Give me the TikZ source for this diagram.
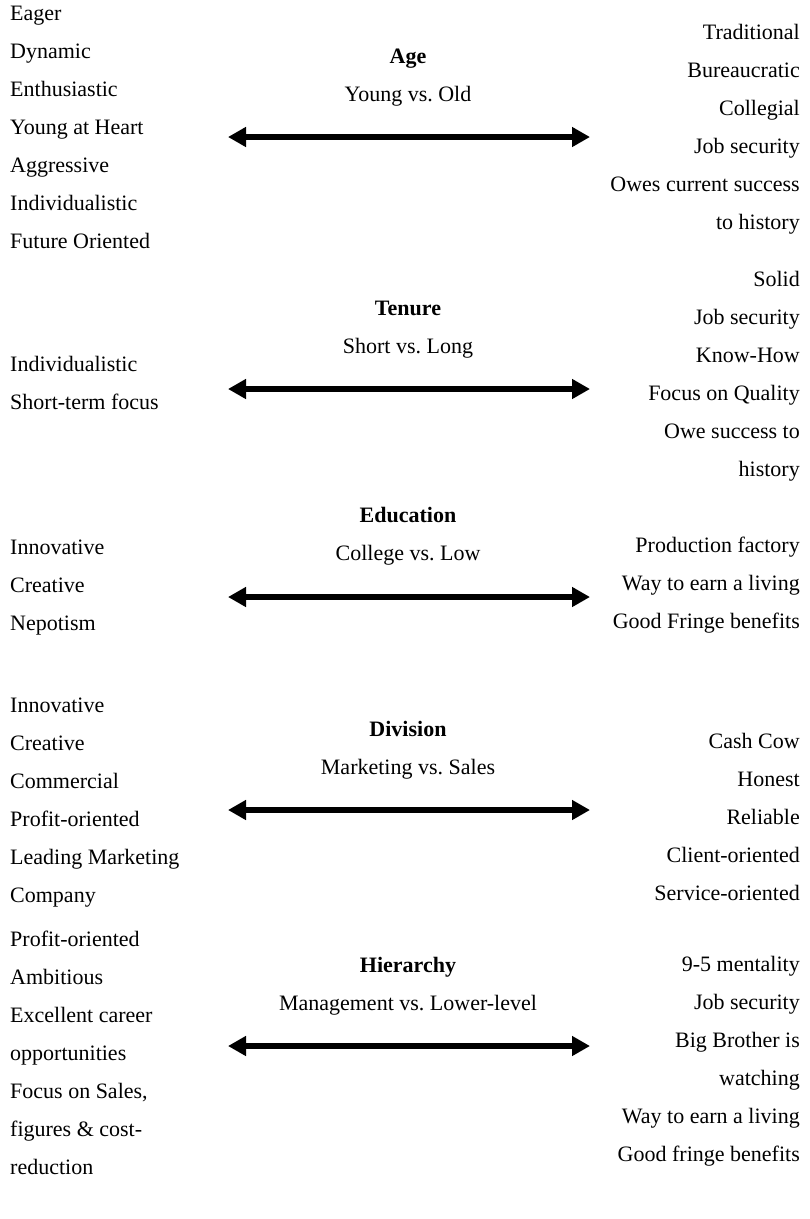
\documentclass[tikz,border=0pt]{standalone}
\usepackage{fontspec}
\setmainfont{Liberation Serif}
\frenchspacing
\usetikzlibrary{arrows.meta,positioning}
\tikzstyle{trait}=[
	inner sep=0pt,
	anchor=base west
]
\tikzstyle{traitright}=[
	inner sep=0pt,
	anchor=base east
]
\tikzstyle{dimension}=[
	inner sep=0pt,
	anchor=base,
	font=\fontsize{22}{26}\selectfont\bfseries
]
\tikzstyle{poles}=[
	inner sep=0pt,
	anchor=base
]
\tikzstyle{contrast}=[
	{Triangle[length=18pt,width=19pt]}-{Triangle[length=18pt,width=19pt]},
	line width=6pt
]

\begin{document}
\begin{tikzpicture}[x=1pt,y=-1pt,font=\fontsize{22}{26}\selectfont]
\useasboundingbox (0,0) rectangle (810,1219);

% Age
\node [dimension] (Age) at (408,63) {Age};
\node [poles] (AgePoles) at (408,101) {Young vs.\ Old};
\coordinate (AgeYoung) at (228,137);
\coordinate (AgeOld) at (590,137);
\draw [contrast] (AgeYoung) -- (AgeOld);
\foreach \t [count=\i] in {Eager,Dynamic,Enthusiastic,Young at Heart,Aggressive,Individualistic,Future Oriented}
	\node [trait] (AgeL\i) at (10,20+38*\i-38) {\t};
\foreach \t [count=\i] in {Traditional,Bureaucratic,Collegial,Job security,Owes current success,to history}
	\node [traitright] (AgeR\i) at (800,39+38*\i-38) {\t};

% Tenure
\node [dimension] (Tenure) at (408,315) {Tenure};
\node [poles] (TenurePoles) at (408,353) {Short vs.\ Long};
\coordinate (TenureShort) at (228,389);
\coordinate (TenureLong) at (590,389);
\draw [contrast] (TenureShort) -- (TenureLong);
\foreach \t [count=\i] in {Individualistic,Short-term focus}
	\node [trait] (TenureL\i) at (10,371+38*\i-38) {\t};
\foreach \t [count=\i] in {Solid,Job security,Know-How,Focus on Quality,Owe success to,history}
	\node [traitright] (TenureR\i) at (800,286+38*\i-38) {\t};

% Education
\node [dimension] (Education) at (408,522) {Education};
\node [poles] (EducationPoles) at (408,560) {College vs.\ Low};
\coordinate (EducationCollege) at (228,597);
\coordinate (EducationLow) at (590,597);
\draw [contrast] (EducationCollege) -- (EducationLow);
\foreach \t [count=\i] in {Innovative,Creative,Nepotism}
	\node [trait] (EducationL\i) at (10,554+38*\i-38) {\t};
\foreach \t [count=\i] in {Production factory,Way to earn a living,Good Fringe benefits}
	\node [traitright] (EducationR\i) at (800,552+38*\i-38) {\t};

% Division
\node [dimension] (Division) at (408,736) {Division};
\node [poles] (DivisionPoles) at (408,774) {Marketing vs.\ Sales};
\coordinate (DivisionMarketing) at (228,810);
\coordinate (DivisionSales) at (590,810);
\draw [contrast] (DivisionMarketing) -- (DivisionSales);
\foreach \t [count=\i] in {Innovative,Creative,Commercial,Profit-oriented,Leading Marketing,Company}
	\node [trait] (DivisionL\i) at (10,712+38*\i-38) {\t};
\foreach \t [count=\i] in {Cash Cow,Honest,Reliable,Client-oriented,Service-oriented}
	\node [traitright] (DivisionR\i) at (800,748+38*\i-38) {\t};

% Hierarchy
\node [dimension] (Hierarchy) at (408,972) {Hierarchy};
\node [poles] (HierarchyPoles) at (408,1010) {Management vs.\ Lower-level};
\coordinate (HierarchyManagement) at (228,1046);
\coordinate (HierarchyLower) at (590,1046);
\draw [contrast] (HierarchyManagement) -- (HierarchyLower);
\foreach \t [count=\i] in {Profit-oriented,Ambitious,Excellent career,opportunities,{Focus on Sales,},figures \& cost-,reduction}
	\node [trait] (HierarchyL\i) at (10,946+38*\i-38) {\t};
\foreach \t [count=\i] in {9-5 mentality,Job security,Big Brother is,watching,Way to earn a living,Good fringe benefits}
	\node [traitright] (HierarchyR\i) at (800,971+38*\i-38) {\t};
\end{tikzpicture}
\end{document}
